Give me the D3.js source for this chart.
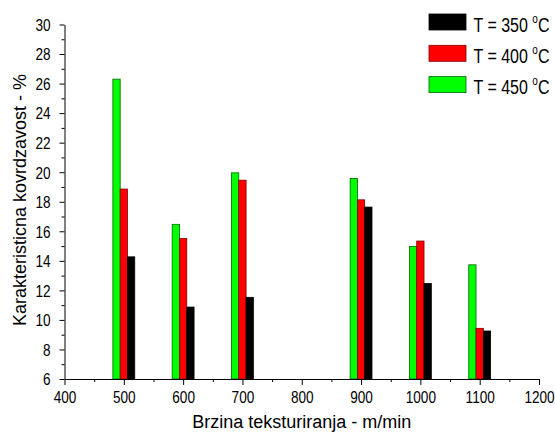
<!DOCTYPE html>
<html><head><meta charset="utf-8">
<script src="https://cdn.jsdelivr.net/npm/d3@7"></script>
<style>body{margin:0;background:#fff}svg{display:block;font-family:"Liberation Sans",Arial,sans-serif}</style>
</head><body>
<svg id="c" width="555" height="432"></svg>
<script>
const speeds = [500, 600, 700, 900, 1000, 1100];
const seriesNames = ["T = 350", "T = 400", "T = 450"];
const t350 = [14.27, 10.87, 11.53, 17.64, 12.47, 9.25];
const t400 = [18.86, 15.52, 19.46, 18.13, 15.34, 9.43];
const t450 = [26.3, 16.47, 19.96, 19.58, 14.98, 13.73];
const xTicks = [400, 500, 600, 700, 800, 900, 1000, 1100, 1200];
const yTicks = [6, 8, 10, 12, 14, 16, 18, 20, 22, 24, 26, 28, 30];

const svg = d3.select("#c");
const x = d3.scaleLinear().domain([400, 1200]).range([64.5, 539]);
const y = d3.scaleLinear().domain([6, 30]).range([379, 24.5]);
const bw = 12.3;

const series = [
  {name: seriesNames[2], vals: t450, fill: "#00ff00", stroke: "#006400", off: -1},
  {name: seriesNames[1], vals: t400, fill: "#ff0000", stroke: "#800000", off: 0},
  {name: seriesNames[0], vals: t350, fill: "#000000", stroke: "#000000", off: 1}
];

series.forEach(s => {
  svg.append("g").selectAll("rect").data(speeds).enter().append("rect")
    .attr("x", (d) => x(d + s.off * bw - bw / 2))
    .attr("width", x(400 + bw) - x(400))
    .attr("y", (d, i) => y(s.vals[i]))
    .attr("height", (d, i) => y(6) - y(s.vals[i]))
    .attr("fill", s.fill).attr("stroke", s.stroke).attr("stroke-width", 0.8);
});

function stretch(sel, k, px, py) {
  sel.each(function () {
    d3.select(this).attr("x", 0).attr("y", 0).attr("dy", 0)
      .attr("transform", `translate(${px},${py}) scale(1,${k})`);
  });
}

// axes
const xAxis = svg.append("g").attr("transform", `translate(0,${y(6)})`)
  .call(d3.axisBottom(x).tickValues(xTicks).tickSize(6).tickSizeOuter(0).tickFormat(d3.format("d")));
svg.append("g").attr("transform", `translate(0,${y(6)})`)
  .call(d3.axisBottom(x).tickValues(d3.range(450, 1200, 100)).tickSize(3).tickFormat("").tickSizeOuter(0))
  .select(".domain").remove();
const yAxis = svg.append("g").attr("transform", `translate(${x(400)},0)`)
  .call(d3.axisLeft(y).tickValues(yTicks).tickSize(5).tickSizeOuter(0));
svg.append("g").attr("transform", `translate(${x(400)},0)`)
  .call(d3.axisLeft(y).tickValues(d3.range(7, 30, 2)).tickSize(3).tickFormat("").tickSizeOuter(0))
  .select(".domain").remove();

svg.selectAll(".tick text").attr("font-size", 13.6).attr("fill", "#000").attr("font-family", "Liberation Sans, Arial, sans-serif");
svg.selectAll(".domain, .tick line").attr("stroke", "#000").attr("stroke-width", 1);
stretch(xAxis.selectAll(".tick text"), 1.2, 0, 24);
stretch(yAxis.selectAll(".tick text"), 1.2, -14, 5.8);

// axis titles
svg.append("text").attr("x", x(800)).attr("y", 428).attr("text-anchor", "middle")
  .attr("font-size", 18).text("Brzina teksturiranja - m/min");
svg.append("text").attr("transform", `translate(26,200) rotate(-90)`).attr("text-anchor", "middle")
  .attr("font-size", 18).text("Karakteristicna kovrdzavost - %");

// legend
const legend = [series[2], series[1], series[0]];
const lg = svg.append("g");
legend.forEach((s, i) => {
  const ly = 14 + i * 31.3;
  lg.append("rect").attr("x", 429).attr("y", ly).attr("width", 37).attr("height", 16)
    .attr("fill", s.fill).attr("stroke", s.stroke).attr("stroke-width", 0.8);
  const t = lg.append("text").attr("font-size", 16)
    .attr("transform", `translate(473.5,${ly + 17.5}) scale(1,1.25)`);
  t.append("tspan").text(s.name + " ");
  t.append("tspan").attr("font-size", 10).attr("dy", -7).text("o");
  t.append("tspan").attr("dy", 7).text("C");
});
</script>
</body></html>
